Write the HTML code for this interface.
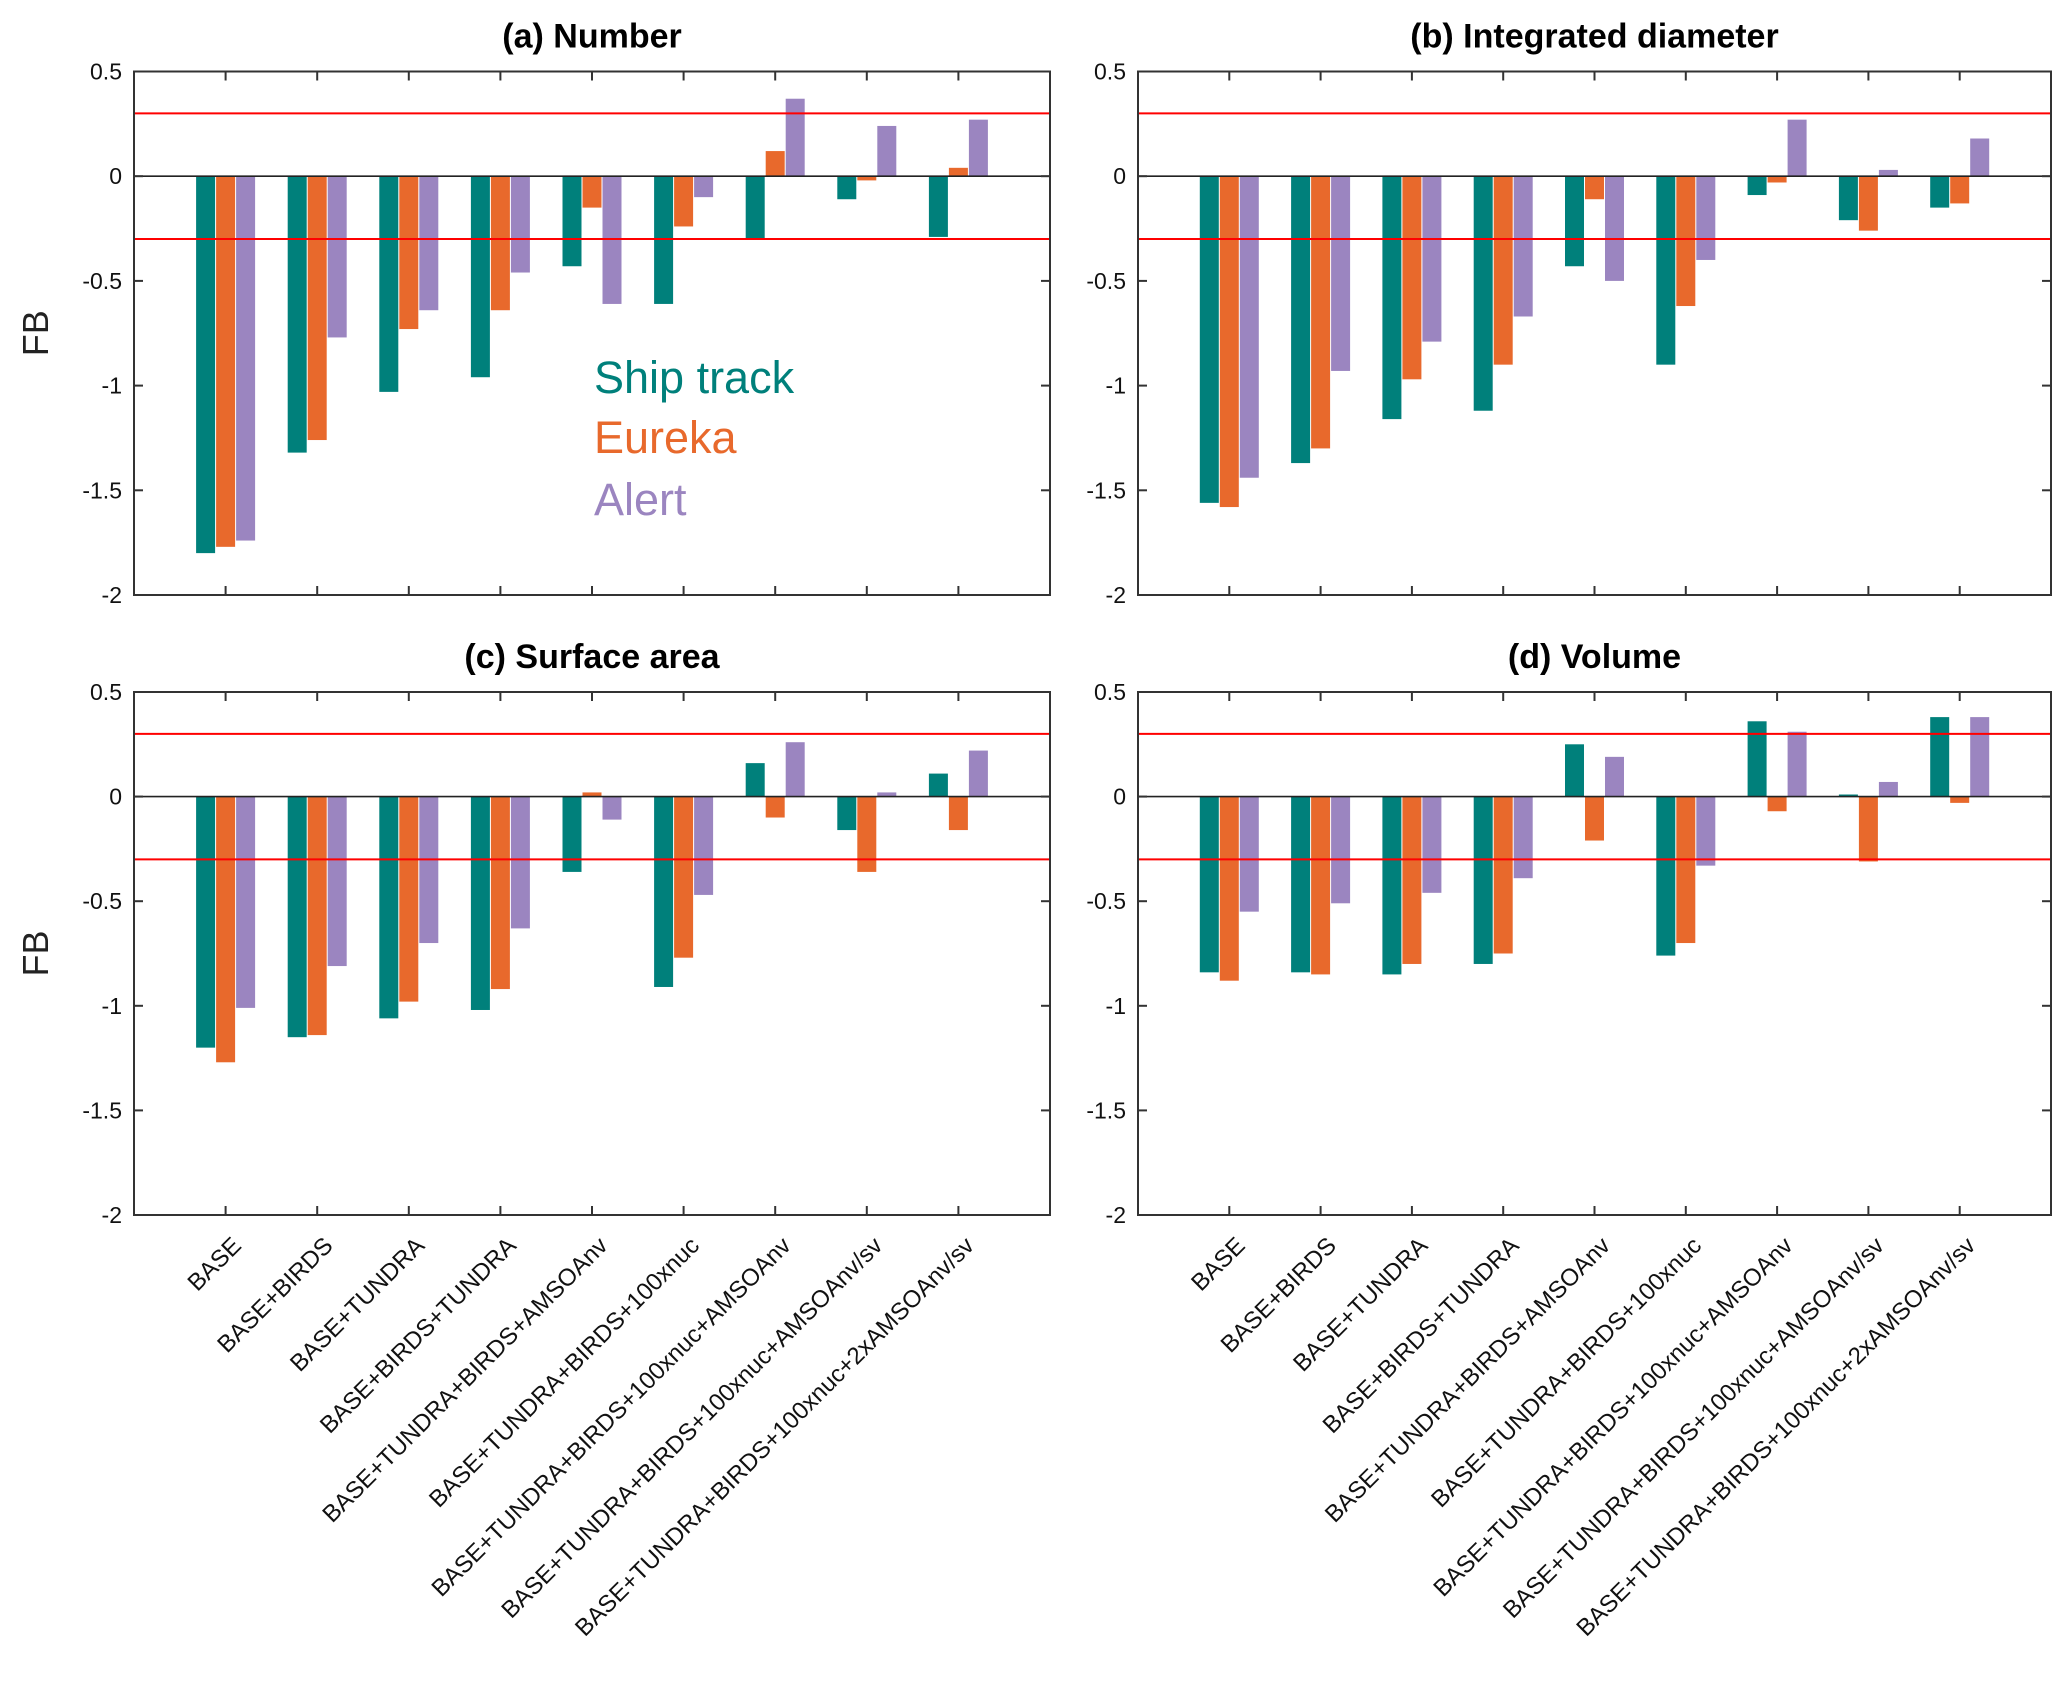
<!DOCTYPE html>
<html><head><meta charset="utf-8"><style>
body{margin:0;background:#fff}
svg{display:block;font-family:"Liberation Sans",Arial,sans-serif}
</style></head><body>
<svg id="chart" width="2067" height="1695" viewBox="0 0 2067 1695" xmlns="http://www.w3.org/2000/svg"></svg>
<script>
const categories=["BASE","BASE+BIRDS","BASE+TUNDRA","BASE+BIRDS+TUNDRA","BASE+TUNDRA+BIRDS+AMSOAnv","BASE+TUNDRA+BIRDS+100xnuc","BASE+TUNDRA+BIRDS+100xnuc+AMSOAnv","BASE+TUNDRA+BIRDS+100xnuc+AMSOAnv/sv","BASE+TUNDRA+BIRDS+100xnuc+2xAMSOAnv/sv"];
const seriesNames=["Ship track","Eureka","Alert"];
const yTicks=[0.5,0,-0.5,-1,-1.5,-2];
const yTickLabels=["0.5","0","-0.5","-1","-1.5","-2"];
const numberShip=[-1.80,-1.32,-1.03,-0.96,-0.43,-0.61,-0.30,-0.11,-0.29];
const numberEureka=[-1.77,-1.26,-0.73,-0.64,-0.15,-0.24,0.12,-0.02,0.04];
const numberAlert=[-1.74,-0.77,-0.64,-0.46,-0.61,-0.10,0.37,0.24,0.27];
const diamShip=[-1.56,-1.37,-1.16,-1.12,-0.43,-0.90,-0.09,-0.21,-0.15];
const diamEureka=[-1.58,-1.30,-0.97,-0.90,-0.11,-0.62,-0.03,-0.26,-0.13];
const diamAlert=[-1.44,-0.93,-0.79,-0.67,-0.50,-0.40,0.27,0.03,0.18];
const surfShip=[-1.20,-1.15,-1.06,-1.02,-0.36,-0.91,0.16,-0.16,0.11];
const surfEureka=[-1.27,-1.14,-0.98,-0.92,0.02,-0.77,-0.10,-0.36,-0.16];
const surfAlert=[-1.01,-0.81,-0.70,-0.63,-0.11,-0.47,0.26,0.02,0.22];
const volShip=[-0.84,-0.84,-0.85,-0.80,0.25,-0.76,0.36,0.01,0.38];
const volEureka=[-0.88,-0.85,-0.80,-0.75,-0.21,-0.70,-0.07,-0.31,-0.03];
const volAlert=[-0.55,-0.51,-0.46,-0.39,0.19,-0.33,0.31,0.07,0.38];
const thresholds=[0.3,-0.3];

const NS="http://www.w3.org/2000/svg";
const svg=document.getElementById('chart');
const colors=["#00807b","#e8692c","#9b85c0"];
function mk(tag,attrs,parent){const e=document.createElementNS(NS,tag);for(const k in attrs)e.setAttribute(k,attrs[k]);(parent||svg).appendChild(e);return e;}

const panels=[
 {id:"a",title:"(a) Number",x0:134,x1:1050,y0:71.5,y1:595,data:[numberShip,numberEureka,numberAlert],ylab:true,xlab:false,legend:true},
 {id:"b",title:"(b) Integrated diameter",x0:1138,x1:2051,y0:71.5,y1:595,data:[diamShip,diamEureka,diamAlert],ylab:false,xlab:false},
 {id:"c",title:"(c) Surface area",x0:134,x1:1050,y0:692,y1:1215,data:[surfShip,surfEureka,surfAlert],ylab:true,xlab:true},
 {id:"d",title:"(d) Volume",x0:1138,x1:2051,y0:692,y1:1215,data:[volShip,volEureka,volAlert],ylab:false,xlab:true}
];
panels.forEach(p=>{
 const g=mk('g',{});
 
 
 const ys=v=>p.y0+(0.5-v)/2.5*(p.y1-p.y0);
 const xs=i=>p.x0+(i+1)/10*(p.x1-p.x0);
 const t=mk('text',{x:(p.x0+p.x1)/2,y:p.y0-24,'text-anchor':'middle','font-size':34,'font-weight':'bold',fill:'#000'},g);
 t.textContent=p.title;
 
 
 const bw=19, off=[-20,0,20];
 p.data.forEach((arr,s)=>{arr.forEach((v,i)=>{
   const cx=xs(i)+off[s];const yt=ys(Math.max(v,0)),yb=ys(Math.min(v,0));
   const r=mk('rect',{x:cx-bw/2,y:yt,width:bw,height:Math.max(yb-yt,0.5),fill:colors[s]},g);
   
   
 });});
 const z=mk('line',{x1:p.x0,x2:p.x1,y1:ys(0),y2:ys(0),stroke:'#222','stroke-width':1.6},g);
 
 
 thresholds.forEach(th=>{const l=mk('line',{x1:p.x0,x2:p.x1,y1:ys(th),y2:ys(th),stroke:'#f00','stroke-width':2},g);
  
  });
 const b=mk('rect',{x:p.x0,y:p.y0,width:p.x1-p.x0,height:p.y1-p.y0,fill:'none',stroke:'#333','stroke-width':2},g);
 
 
 yTicks.forEach((v,k)=>{
  const y=ys(v);
  mk('line',{x1:p.x0,x2:p.x0+9,y1:y,y2:y,stroke:'#333','stroke-width':2},g);
  mk('line',{x1:p.x1,x2:p.x1-9,y1:y,y2:y,stroke:'#333','stroke-width':2},g);
  const tl=mk('text',{x:p.x0-12,y:y+8,'text-anchor':'end','font-size':23,fill:'#111'},g);
  tl.textContent=yTickLabels[k];
  
  
 });
 categories.forEach((c,i)=>{
  const x=xs(i);
  mk('line',{x1:x,x2:x,y1:p.y0,y2:p.y0+9,stroke:'#333','stroke-width':2},g);
  mk('line',{x1:x,x2:x,y1:p.y1,y2:p.y1-9,stroke:'#333','stroke-width':2},g);
  if(p.xlab){
   const tl=mk('text',{x:0,y:0,'text-anchor':'end','font-size':24,fill:'#111',transform:`translate(${x+17},${p.y1+32}) rotate(-45)`},g);
   tl.textContent=c;
   
   
  }
 });
 if(p.ylab){
  const yl=mk('text',{x:0,y:0,'text-anchor':'middle','font-size':36,fill:'#222',transform:`translate(48,${(p.y0+p.y1)/2}) rotate(-90)`},g);
  yl.textContent='FB';
  
  
 }
 if(p.legend){
  const lys=[393,453,515];
  seriesNames.forEach((n,s)=>{
   const lt=mk('text',{x:594,y:lys[s],'font-size':45,fill:colors[s]},g);
   lt.textContent=n;
   
   
  });
 }
});
</script>
</body></html>
